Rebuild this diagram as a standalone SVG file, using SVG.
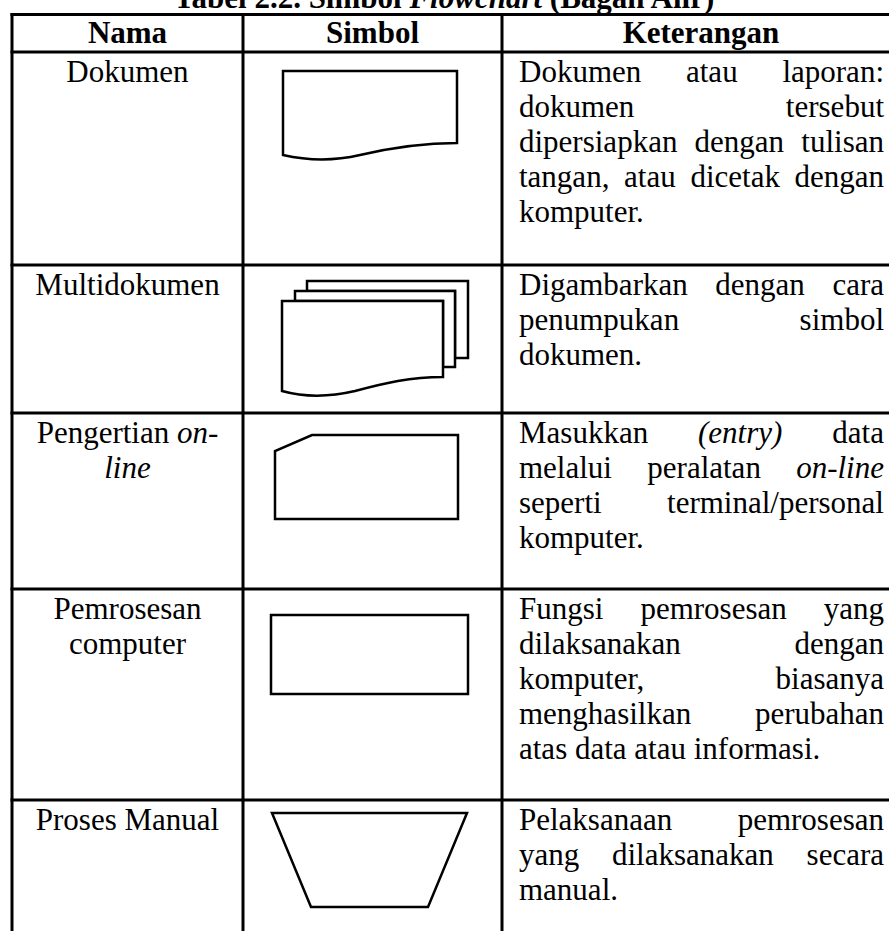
<svg xmlns="http://www.w3.org/2000/svg" width="889" height="931" viewBox="0 0 889 931">
<style>
text{font-family:"Liberation Serif","Times New Roman",serif;font-size:31px;fill:#000}
.b{font-weight:bold}
.i{font-style:italic}
.c{text-anchor:middle}
.e{text-anchor:end}
.grid line{stroke:#000;stroke-width:3}
.sym{fill:#fff;stroke:#000;stroke-width:2.5;stroke-linejoin:miter}
</style>
<rect width="889" height="931" fill="#fff"/>
<text class="b c" x="444" y="8">Tabel 2.2. Simbol <tspan class="i">Flowchart</tspan> (Bagan Alir)</text>
<g id="grid" class="grid">
<line x1="10.5" y1="14.5" x2="889" y2="14.5"/>
<line x1="10.5" y1="52" x2="889" y2="52"/>
<line x1="10.5" y1="265" x2="889" y2="265"/>
<line x1="10.5" y1="413" x2="889" y2="413"/>
<line x1="10.5" y1="589" x2="889" y2="589"/>
<line x1="10.5" y1="800" x2="889" y2="800"/>
<line x1="12" y1="13" x2="12" y2="931"/>
<line x1="243" y1="13" x2="243" y2="931"/>
<line x1="502" y1="13" x2="502" y2="931"/>
</g>
<g id="header">
<text class="b c" x="127.5" y="43">Nama</text>
<text class="b c" x="372.5" y="43">Simbol</text>
<text class="b c" x="701" y="43">Keterangan</text>
</g>
<g id="row-dokumen">
<text class="c" x="127.5" y="82">Dokumen</text>
<path class="sym" d="M283,71 H457 V143 C420,143 390,148 360,155 C330,162 305,160 283,155 Z"/>
<text x="519" y="82">Dokumen</text><text x="686" y="82">atau</text><text class="e" x="884" y="82">laporan:</text>
<text x="519" y="117">dokumen</text><text class="e" x="884" y="117">tersebut</text>
<text x="519" y="152">dipersiapkan</text><text x="694.6" y="152">dengan</text><text class="e" x="884" y="152">tulisan</text>
<text x="519" y="187">tangan,</text><text x="624.1" y="187">atau</text><text x="690.4" y="187">dicetak</text><text class="e" x="884" y="187">dengan</text>
<text x="519" y="222">komputer.</text>
</g>
<g id="row-multidokumen">
<text class="c" x="127.5" y="295">Multidokumen</text>
<path class="sym" d="M307,281 H468 V358 H455 V291 H307 Z"/>
<path class="sym" d="M295,291 H455 V367 H443 V301 H295 Z"/>
<path class="sym" d="M282,301 H443 V377 C410,377 385,383 355,391 C325,398 300,396 282,391 Z"/>
<text x="519" y="295">Digambarkan</text><text x="715.3" y="295">dengan</text><text class="e" x="884" y="295">cara</text>
<text x="519" y="330">penumpukan</text><text class="e" x="884" y="330">simbol</text>
<text x="519" y="365">dokumen.</text>
</g>
<g id="row-online">
<text class="c" x="127.5" y="443">Pengertian <tspan class="i">on-</tspan></text>
<text class="c i" x="127.5" y="478">line</text>
<path class="sym" d="M312,435 H458 V519 H275 V451 Z"/>
<text x="519" y="443">Masukkan</text><text class="i" x="698" y="443">(entry)</text><text class="e" x="884" y="443">data</text>
<text x="519" y="478">melalui</text><text x="647.3" y="478">peralatan</text><text class="e i" x="884" y="478">on-line</text>
<text x="519" y="513">seperti</text><text class="e" x="884" y="513">terminal/personal</text>
<text x="519" y="548">komputer.</text>
</g>
<g id="row-pemrosesan">
<text class="c" x="127.5" y="619">Pemrosesan</text>
<text class="c" x="127.5" y="654">computer</text>
<rect class="sym" x="271" y="615" width="197" height="79"/>
<text x="519" y="619">Fungsi</text><text x="640.4" y="619">pemrosesan</text><text class="e" x="884" y="619">yang</text>
<text x="519" y="654">dilaksanakan</text><text class="e" x="884" y="654">dengan</text>
<text x="519" y="689">komputer,</text><text class="e" x="884" y="689">biasanya</text>
<text x="519" y="724">menghasilkan</text><text class="e" x="884" y="724">perubahan</text>
<text x="519" y="759">atas data atau informasi.</text>
</g>
<g id="row-manual">
<text class="c" x="127.5" y="830">Proses Manual</text>
<path class="sym" d="M272,813 H467 L428,907 H311 Z"/>
<text x="519" y="830">Pelaksanaan</text><text class="e" x="884" y="830">pemrosesan</text>
<text x="519" y="865">yang</text><text x="612" y="865">dilaksanakan</text><text class="e" x="884" y="865">secara</text>
<text x="519" y="900">manual.</text>
</g>
</svg>
